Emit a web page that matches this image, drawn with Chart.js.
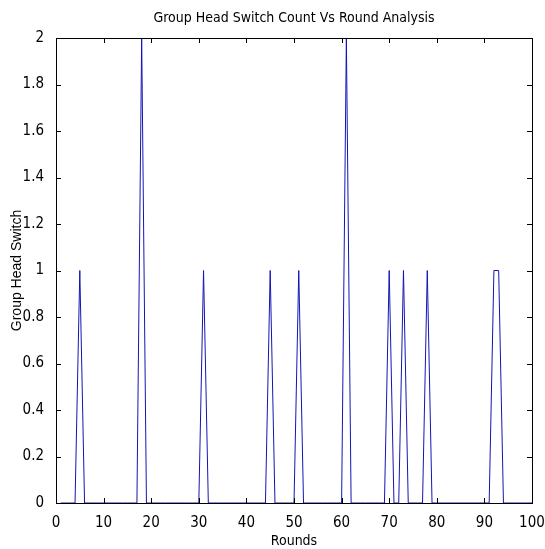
<!DOCTYPE html>
<html lang="en">
<head>
    <meta charset="UTF-8">
    <title>Group Head Switch Count Vs Round Analysis</title>
    <script src="https://cdn.jsdelivr.net/npm/chart.js"></script>
    <style>
        body { margin: 0; background: #fff; }
        #chart { display: block; }
    </style>
</head>
<body>
    <canvas id="chart" width="545" height="549"></canvas>
    <script>
        // switch count per round, rounds 1..100
        const switchCounts = [
            0, 0, 0, 0, 1, 0, 0, 0, 0, 0,
            0, 0, 0, 0, 0, 0, 0, 2, 0, 0,
            0, 0, 0, 0, 0, 0, 0, 0, 0, 0,
            1, 0, 0, 0, 0, 0, 0, 0, 0, 0,
            0, 0, 0, 0, 1, 0, 0, 0, 0, 0,
            1, 0, 0, 0, 0, 0, 0, 0, 0, 0,
            2, 0, 0, 0, 0, 0, 0, 0, 0, 1,
            0, 0, 1, 0, 0, 0, 0, 1, 0, 0,
            0, 0, 0, 0, 0, 0, 0, 0, 0, 0,
            0, 1, 1, 0, 0, 0, 0, 0, 0, 0
        ];
        const rounds = switchCounts.map((_, i) => i + 1);

        const xTicks = [0, 10, 20, 30, 40, 50, 60, 70, 80, 90, 100];
        const yTicks = [0, 0.2, 0.4, 0.6, 0.8, 1, 1.2, 1.4, 1.6, 1.8, 2];
        const chartTitle = 'Group Head Switch Count Vs Round Analysis';

        const narrow = "'Liberation Sans Narrow', 'DejaVu Sans Condensed', Arial, sans-serif";

        // matlab style box with inward ticks on all four sides, title over the axes
        const boxPlugin = {
            id: 'boxPlugin',
            afterDatasetsDraw: (chart) => {
                const { ctx, chartArea: a, scales } = chart;
                const len = 5;
                ctx.save();
                ctx.strokeStyle = '#000';
                ctx.lineWidth = 1;
                ctx.beginPath();
                xTicks.forEach(v => {
                    const x = Math.round(scales.x.getPixelForValue(v)) + 0.5;
                    ctx.moveTo(x, a.bottom); ctx.lineTo(x, a.bottom - len);
                    ctx.moveTo(x, a.top); ctx.lineTo(x, a.top + len);
                });
                yTicks.forEach(v => {
                    const y = Math.round(scales.y.getPixelForValue(v)) + 0.5;
                    ctx.moveTo(a.left, y); ctx.lineTo(a.left + len, y);
                    ctx.moveTo(a.right, y); ctx.lineTo(a.right - len, y);
                });
                ctx.stroke();
                ctx.strokeRect(Math.round(a.left) + 0.5, Math.round(a.top) + 0.5,
                    Math.round(a.right - a.left), Math.round(a.bottom - a.top));

                ctx.fillStyle = '#000';
                ctx.font = '14px ' + narrow;
                ctx.textAlign = 'center';
                ctx.textBaseline = 'middle';
                ctx.fillText(chartTitle, (a.left + a.right) / 2, 18);
                ctx.restore();
            }
        };

        new Chart(document.getElementById('chart'), {
            type: 'line',
            data: {
                labels: rounds,
                datasets: [{
                    label: 'Group Head Switch',
                    data: rounds.map((r, i) => ({ x: r, y: switchCounts[i] })),
                    borderColor: '#1414b4',
                    borderWidth: 1,
                    pointRadius: 0,
                    tension: 0,
                    fill: false
                }]
            },
            options: {
                responsive: false,
                animation: false,
                layout: { padding: { top: 38, right: 0, left: 0, bottom: 0 } },
                plugins: {
                    legend: { display: false },
                    tooltip: { enabled: false },
                    title: { display: false }
                },
                scales: {
                    x: {
                        type: 'linear',
                        min: 0,
                        max: 100,
                        afterFit: (s) => {
                            s.height = 46;
                            s.paddingLeft = 0;
                            s.paddingRight = 13;
                        },
                        afterBuildTicks: (s) => { s.ticks = xTicks.map(v => ({ value: v })); },
                        grid: { display: false },
                        border: { display: false },
                        ticks: {
                            color: '#000',
                            padding: 3,
                            maxRotation: 0,
                            autoSkip: false,
                            font: { family: narrow, size: 15 }
                        },
                        title: {
                            display: true,
                            text: 'Rounds',
                            color: '#000',
                            font: { family: narrow, size: 14, lineHeight: 1.0 },
                            padding: { top: 0, bottom: 1 }
                        }
                    },
                    y: {
                        min: 0,
                        max: 2,
                        afterFit: (s) => { s.width = 56; },
                        afterBuildTicks: (s) => { s.ticks = yTicks.map(v => ({ value: v })); },
                        grid: { display: false },
                        border: { display: false },
                        ticks: {
                            color: '#000',
                            padding: 4,
                            autoSkip: false,
                            font: { family: narrow, size: 15 },
                            callback: (v) => String(Math.round(v * 10) / 10)
                        },
                        title: {
                            display: true,
                            text: 'Group Head Switch',
                            color: '#000',
                            font: { family: "'Liberation Sans', Arial, sans-serif", size: 14, lineHeight: 1.2 },
                            padding: { top: 9, bottom: 0 }
                        }
                    }
                }
            },
            plugins: [boxPlugin]
        });
    </script>
</body>
</html>
